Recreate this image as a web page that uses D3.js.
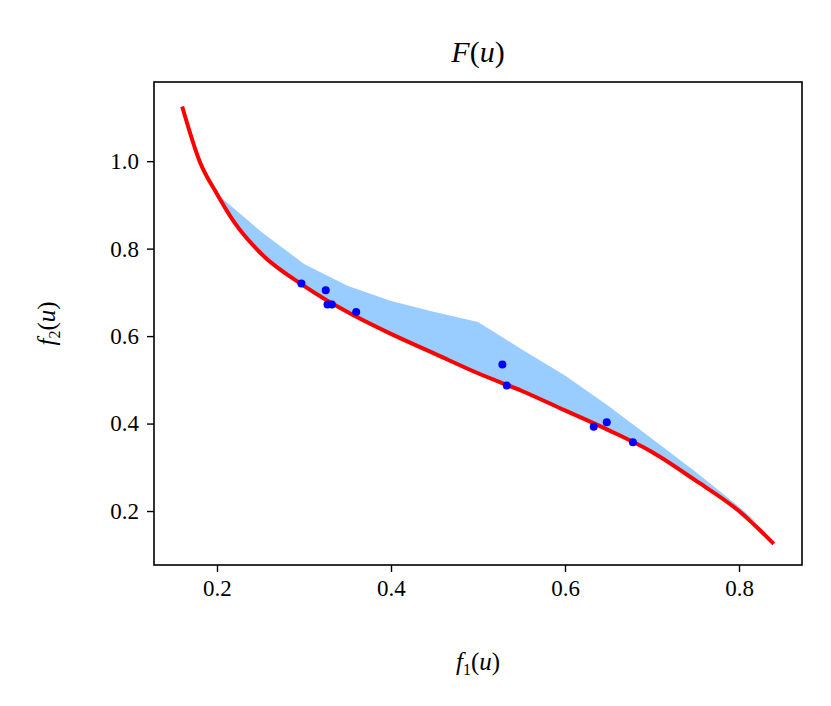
<!DOCTYPE html>
<html><head><meta charset="utf-8">
<script src="https://cdn.jsdelivr.net/npm/d3@7"></script>
<style>body{margin:0;background:#fff}text{font-family:"Liberation Serif",serif}</style>
</head><body>
<script>
// pareto front (red curve)
var frontF1 = [0.16, 0.18, 0.2, 0.22, 0.25, 0.3, 0.35, 0.4, 0.45, 0.5, 0.55, 0.6, 0.65, 0.7, 0.75, 0.8, 0.84];
var frontF2 = [1.125, 1.0, 0.925, 0.86, 0.79, 0.715, 0.655, 0.605, 0.56, 0.515, 0.475, 0.43, 0.385, 0.335, 0.27, 0.2, 0.125];
// upper edge of the attainable region
var bandF1 = [0.2, 0.25, 0.3, 0.35, 0.4, 0.45, 0.5, 0.55, 0.6, 0.65, 0.7, 0.75, 0.8, 0.82];
var bandF2 = [0.925, 0.84, 0.765, 0.715, 0.68, 0.655, 0.632, 0.57, 0.51, 0.44, 0.365, 0.29, 0.21, 0.175];
// sampled solutions
var ptsF1 = [0.297, 0.325, 0.327, 0.332, 0.36, 0.528, 0.533, 0.633, 0.648, 0.678];
var ptsF2 = [0.72, 0.705, 0.672, 0.672, 0.655, 0.535, 0.487, 0.393, 0.403, 0.357];
var xTicks = [0.2, 0.4, 0.6, 0.8];
var yTicks = [0.2, 0.4, 0.6, 0.8, 1.0];

var W = 831, H = 706, L = 154, R = 802, T = 82, B = 565;
var svg = d3.select('body').append('svg').attr('width', W).attr('height', H);
var x = d3.scaleLinear().domain([0.1276, 0.8724]).range([L, R]);
var y = d3.scaleLinear().domain([0.0766, 1.181]).range([B, T]);

// band: upper edge then the front back along the bottom
var lowerPts = frontF1.map(function (v, i) { return [v, frontF2[i]]; })
    .filter(function (p) { return p[0] >= 0.2 && p[0] <= 0.82; });
var bandPts = bandF1.map(function (v, i) { return [v, bandF2[i]]; })
    .concat(lowerPts.reverse());
svg.append('path')
    .attr('d', d3.line().x(function (d) { return x(d[0]); }).y(function (d) { return y(d[1]); })
        .curve(d3.curveLinear)(bandPts))
    .attr('fill', '#99ccff');

svg.append('path')
    .datum(frontF1.map(function (v, i) { return [v, frontF2[i]]; }))
    .attr('d', d3.line().x(function (d) { return x(d[0]); }).y(function (d) { return y(d[1]); }).curve(d3.curveMonotoneX))
    .attr('fill', 'none').attr('stroke', 'red').attr('stroke-width', 4);

svg.selectAll('circle').data(ptsF1).enter().append('circle')
    .attr('cx', function (d) { return x(d); })
    .attr('cy', function (d, i) { return y(ptsF2[i]); })
    .attr('r', 4).attr('fill', 'blue');

svg.append('rect').attr('x', L).attr('y', T).attr('width', R - L).attr('height', B - T)
    .attr('fill', 'none').attr('stroke', 'black').attr('stroke-width', 1.6);

var xa = svg.append('g').attr('transform', 'translate(0,' + B + ')')
    .call(d3.axisBottom(x).tickValues(xTicks).tickFormat(d3.format('.1f')).tickSize(7).tickPadding(8));
var ya = svg.append('g').attr('transform', 'translate(' + L + ',0)')
    .call(d3.axisLeft(y).tickValues(yTicks).tickFormat(d3.format('.1f')).tickSize(7).tickPadding(8));
[xa, ya].forEach(function (a) {
    a.select('.domain').remove();
    a.selectAll('line').attr('stroke-width', 1.4);
    a.selectAll('text').attr('font-size', 23).attr('font-family', '"Liberation Serif",serif');
});

function mathLabel(g, parts) {
    parts.forEach(function (p) {
        var ts = g.append('tspan').text(p[0]);
        if (p[1] === 'i') ts.attr('font-style', 'italic');
        if (p[1] === 's') ts.attr('font-size', 16).attr('dy', 5);
        if (p[1] === 'r') ts.attr('dy', -5);
    });
}
var t = svg.append('text').attr('x', (L + R) / 2).attr('y', 62).attr('text-anchor', 'middle').attr('font-size', 30);
mathLabel(t, [['F', 'i'], ['(', ''], ['u', 'i'], [')', '']]);
var xl = svg.append('text').attr('x', (L + R) / 2).attr('y', 670).attr('text-anchor', 'middle').attr('font-size', 25);
mathLabel(xl, [['f', 'i'], ['1', 's'], ['(', 'r'], ['u', 'i'], [')', '']]);
var yl = svg.append('text').attr('transform', 'translate(55,' + ((T + B) / 2) + ') rotate(-90)')
    .attr('text-anchor', 'middle').attr('font-size', 25);
mathLabel(yl, [['f', 'i'], ['2', 's'], ['(', 'r'], ['u', 'i'], [')', '']]);
</script>
</body></html>
